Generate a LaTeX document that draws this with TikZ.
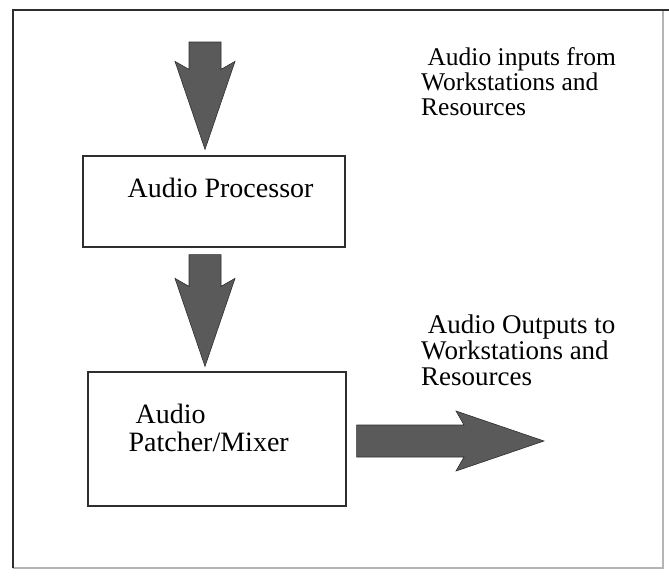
\documentclass[tikz,border=0pt]{standalone}
\usepackage{fontspec}
\setmainfont{Liberation Serif}
\newfontfamily\labelserif{Liberation Serif}
\usetikzlibrary{calc}

\definecolor{arrowgray}{HTML}{5A5A5A}
\definecolor{inkgray}{HTML}{2E2E2E}
\definecolor{edgegray}{HTML}{B4B4B4}

\tikzset{
  procbox/.style={draw=inkgray, line width=1.2pt, rectangle, inner sep=0pt},
  boxtext/.style={inner sep=0pt, align=left, font=\labelserif\fontsize{28}{28.5}\selectfont},
  captiontext/.style={inner sep=0pt, align=left, anchor=north west},
  fatarrow/.style={fill=arrowgray, draw=inkgray, line width=0.6pt, line join=miter},
}

% Block arrow from tail #1 to tip #2: shaft half-width 16, head half-width 30,
% barbs swept back (outer corner 88 from the tip, notch 80 from the tip).
\newcommand\blockarrow[2]{%
  \path[fatarrow]
    ($(#1)!16pt!90:(#2)$)
    -- ($($(#2)!80pt!(#1)$)!16pt!-90:(#1)$)
    -- ($($(#2)!88pt!(#1)$)!30pt!-90:(#1)$)
    -- (#2)
    -- ($($(#2)!88pt!(#1)$)!30pt!90:(#1)$)
    -- ($($(#2)!80pt!(#1)$)!16pt!90:(#1)$)
    -- ($(#1)!16pt!-90:(#2)$)
    -- cycle;
}

\begin{document}
\begin{tikzpicture}[x=1pt, y=-1pt]
  \useasboundingbox[fill=white] (0,0) rectangle (669,579);

  % outer frame
  \draw[edgegray, line width=1.2pt] (663,10) -- (663,568) -- (13,568);
  \draw[inkgray, line width=2pt] (13,568) -- (13,10) -- (669,10);

  % processing blocks
  \node[procbox, minimum width=262pt, minimum height=91pt] (proc) at (214,201.5) {};
  \node[procbox, minimum width=258pt, minimum height=134pt] (mixer) at (217,439) {};

  \node[boxtext, anchor=base west] (proclabel) at ($(proc.north west)+(45,42)$) {Audio Processor};
  \node[boxtext, anchor=north west] (mixlabel) at ($(mixer.north west)+(41,32)$)
    {\hspace*{0.25em}Audio\\Patcher/Mixer};

  % side captions
  \node[captiontext, font=\labelserif\fontsize{25.5}{25}\selectfont] (incaption) at (421,47)
    {\hspace*{0.25em}Audio inputs from\\Workstations and\\Resources};
  \node[captiontext, font=\labelserif\fontsize{27}{26}\selectfont] (outcaption) at (421,315)
    {\hspace*{0.25em}Audio Outputs to\\Workstations and\\Resources};

  % arrow end points
  \coordinate (inTail) at (205,42);
  \coordinate (inTip) at ($(proc.north)+(-9,-6)$);
  \coordinate (midTail) at ($(proc.south)+(-9,7)$);
  \coordinate (midTip) at ($(mixer.north)+(-12,-5)$);
  \coordinate (outTail) at ($(mixer.east)+(10,2)$);
  \coordinate (outTip) at (544,441);

  \blockarrow{inTail}{inTip}
  \blockarrow{midTail}{midTip}
  \blockarrow{outTail}{outTip}
\end{tikzpicture}
\end{document}
